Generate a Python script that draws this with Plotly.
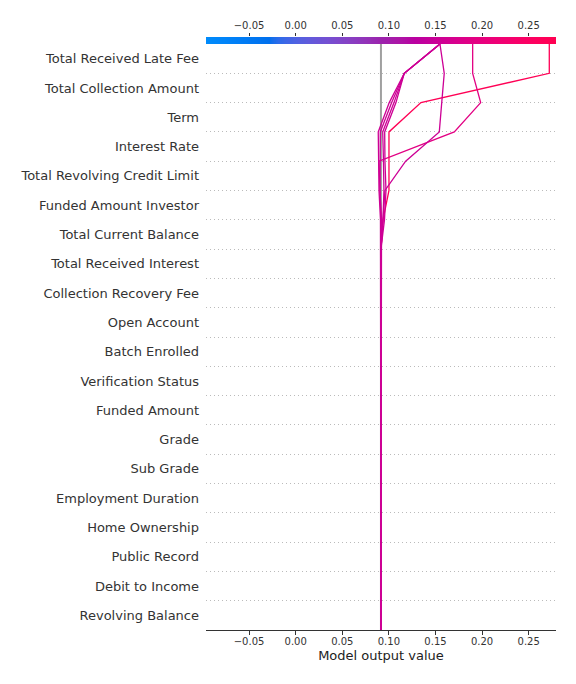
import numpy as np
import plotly.graph_objects as go

# ---------------- data ----------------
features = [
    "Total Received Late Fee", "Total Collection Amount", "Term", "Interest Rate",
    "Total Revolving Credit Limit", "Funded Amount Investor", "Total Current Balance",
    "Total Received Interest", "Collection Recovery Fee", "Open Account", "Batch Enrolled",
    "Verification Status", "Funded Amount", "Grade", "Sub Grade", "Employment Duration",
    "Home Ownership", "Public Record", "Debit to Income", "Revolving Balance",
]
base_value = 0.0915

Z13 = [0.0] * 13
# SHAP values per observation, same order as `features` (top to bottom)
shap_obs_1 = [0.0, 0.1377, 0.0343, 0.0, 0.0, 0.0064, 0.0022] + Z13
shap_obs_2 = [0.0, -0.0086, 0.0283, 0.0808, -0.0011, -0.0010, 0.0] + Z13
shap_obs_3 = [-0.0046, 0.0027, 0.0026, 0.0361, 0.0222, 0.0021, 0.0022] + Z13
shap_obs_4 = [0.0383, 0.0089, 0.0121, -0.0003, -0.0011, 0.0016, 0.0038] + Z13
shap_obs_5 = [0.0383, 0.0110, 0.0121, -0.0008, -0.0005, 0.0010, 0.0022] + Z13
shap_obs_6 = [0.0383, 0.0135, 0.0122, -0.0002, 0.0005, -0.0016, 0.0006] + Z13
shap_obs_7 = [0.0383, 0.0161, 0.0118, -0.0002, -0.0006, -0.0016, -0.0005] + Z13
observations = [shap_obs_1, shap_obs_2, shap_obs_3, shap_obs_4, shap_obs_5, shap_obs_6, shap_obs_7]

x_range = [-0.0962, 0.2793]
tick_vals = [-0.05, 0.0, 0.05, 0.10, 0.15, 0.20, 0.25]
tick_text = ["\u22120.05", "0.00", "0.05", "0.10", "0.15", "0.20", "0.25"]

# ---------------- shap red_blue colormap ----------------
def lch2rgb(L, C, h):
    a = C * np.cos(h)
    b = C * np.sin(h)
    y = (L + 16.0) / 116.0
    x = a / 500.0 + y
    z = y - b / 200.0
    z = max(z, 0.0)
    out = []
    for t in (x, y, z):
        out.append(t ** 3 if t > 0.2068966 else (t - 16.0 / 116.0) / 7.787)
    X, Y, Zc = out[0] * 0.95047, out[1] * 1.0, out[2] * 1.08883
    M = np.array([[3.24048134, -1.53715152, -0.49853633],
                  [-0.96925495, 1.87599, 0.04155593],
                  [0.05564664, -0.20404134, 1.05731107]])
    rgb = M @ np.array([X, Y, Zc])
    res = []
    for c in rgb:
        c = 1.055 * c ** (1 / 2.4) - 0.055 if c > 0.0031308 else 12.92 * c
        res.append(min(max(c, 0.0), 1.0))
    return res

nsteps = 100
blue_lch = [54.0, 70.0, 4.6588]
red_lch = [54.0, 90.0, 0.35470565 + 2 * np.pi]
l_mid = 40.0
l_vals = list(np.linspace(blue_lch[0], l_mid, nsteps // 2)) + list(np.linspace(l_mid, red_lch[0], nsteps // 2))
c_vals = np.linspace(blue_lch[1], red_lch[1], nsteps)
h_vals = np.linspace(blue_lch[2], red_lch[2], nsteps)
cmap = np.array([lch2rgb(l, c, h) for l, c, h in zip(l_vals, c_vals, h_vals)])
pos = np.linspace(0, 1, nsteps)
colorscale = [[float(p), "rgb(%d,%d,%d)" % tuple(np.round(c * 255))] for p, c in zip(pos, cmap)]

def color_at(v):
    f = (v - x_range[0]) / (x_range[1] - x_range[0])
    f = min(max(f, 0), 1)
    rgb = [np.interp(f, pos, cmap[:, i]) for i in range(3)]
    return "rgb(%d,%d,%d)" % tuple(int(round(c * 255)) for c in rgb)

# ---------------- figure ----------------
n = len(features)
y_levels = np.arange(n + 1)  # 0 (bottom) .. n (top)
fig = go.Figure()

for obs in observations:
    vals_bottom_up = list(reversed(obs))
    cum = base_value + np.concatenate([[0.0], np.cumsum(vals_bottom_up)])
    fig.add_trace(go.Scatter(
        x=cum, y=y_levels, mode="lines",
        line=dict(color=color_at(cum[-1]), width=1.3),
        hoverinfo="skip", showlegend=False, xaxis="x", yaxis="y",
    ))

# colorbar strip
cb_x = np.linspace(x_range[0], x_range[1], 400)
fig.add_trace(go.Heatmap(
    x=cb_x, y=[0], z=[cb_x], colorscale=colorscale,
    zmin=x_range[0], zmax=x_range[1], showscale=False,
    hoverinfo="skip", xaxis="x2", yaxis="y2",
))

# base value line
fig.add_shape(type="line", xref="x", yref="y", x0=base_value, x1=base_value,
              y0=0, y1=n, line=dict(color="#a0a0a0", width=2), layer="below")

plot_top = 37
plot_bottom = 630
cb_bottom = 44
main_top_frac = (plot_bottom - cb_bottom) / (plot_bottom - plot_top)

font_family = "DejaVu Sans"
fig.update_layout(
    width=576, height=684,
    margin=dict(l=206, r=20, t=plot_top, b=684 - plot_bottom, pad=0),
    paper_bgcolor="white", plot_bgcolor="white",
    font=dict(family=font_family, color="#333333"),
    showlegend=False,
    xaxis=dict(
        domain=[0, 1], range=x_range, anchor="y",
        tickvals=tick_vals, ticktext=tick_text,
        ticks="outside", ticklen=3.5, tickwidth=1, tickcolor="#333333",
        tickfont=dict(size=10, color="#333333"),
        ticklabelstandoff=-2,
        showline=True, linecolor="#333333", linewidth=1,
        showgrid=False, zeroline=False,
        title=dict(text="Model output value", font=dict(size=13, color="#222222"), standoff=5),
    ),
    yaxis=dict(
        domain=[0, main_top_frac], range=[0, n], anchor="x",
        tickvals=[i + 0.5 for i in range(n)], ticktext=list(reversed(features)),
        ticks="", tickfont=dict(size=13, color="#333333"),
        ticklabelstandoff=6,
        showgrid=False, zeroline=False, showline=False,
        minor=dict(tickvals=list(range(1, n)), showgrid=True, gridcolor="#bbbbbb",
                   gridwidth=1, griddash="1px,3px", ticks=""),
    ),
    xaxis2=dict(
        domain=[0, 1], range=x_range, anchor="y2", side="top",
        tickvals=tick_vals, ticktext=tick_text,
        ticks="outside", ticklen=3.5, tickwidth=1, tickcolor="#333333",
        tickfont=dict(size=10, color="#333333"),
        showline=False, showgrid=False, zeroline=False,
    ),
    yaxis2=dict(
        domain=[main_top_frac, 1], range=[-0.5, 0.5], anchor="x2",
        showticklabels=False, ticks="", showgrid=False, zeroline=False, showline=False,
    ),
)

fig.write_html("out.html")
